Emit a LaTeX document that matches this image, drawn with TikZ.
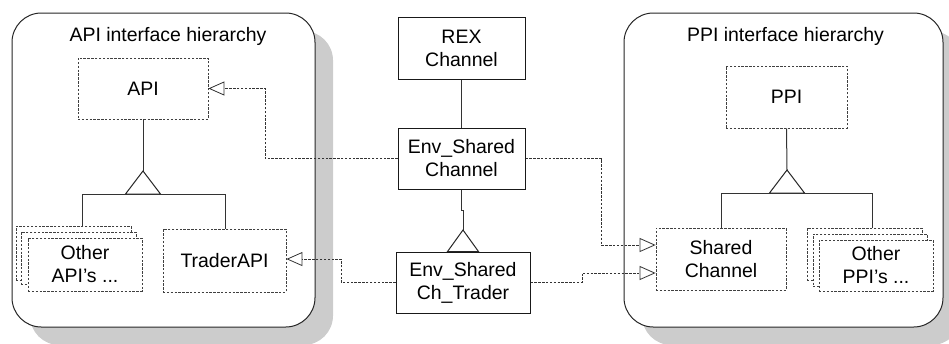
\documentclass[tikz,border=0pt]{standalone}
\usepackage{fontspec}
\setmainfont{Liberation Sans}
\usetikzlibrary{arrows.meta,shadows}
\newdimen\pxu \pxu=0.75pt
\begin{document}
\begin{tikzpicture}[x=0.75pt,y=-0.75pt,
  font=\fontsize{14.6}{17.3}\selectfont,
  container/.style={draw=black!85, line width=0.75pt, fill=white,
    rounded corners=22pt, inner sep=0pt,
    drop shadow={shadow xshift=13.5pt, shadow yshift=-13.5pt, fill=black!20, opacity=1}},
  solidbox/.style={draw=black!90, line width=0.75pt, fill=white, align=center, inner sep=0pt},
  dashbox/.style={draw=black!75, line width=0.6pt, dash pattern=on 1.8pt off 1.1pt,
    fill=white, align=center, inner sep=0pt},
  title/.style={inner sep=0pt},
  link/.style={draw=black!80, line width=0.75pt},
  gentri/.style={draw=black!85, line width=0.75pt, line join=miter},
  dep/.style={draw=black!80, line width=0.6pt, dash pattern=on 1.8pt off 1.1pt,
    -{Triangle[open, length=12pt, width=10.5pt, line width=0.6pt]}}
]
\useasboundingbox (0,0) rectangle (949,343);
\clip (0,0) rectangle (949,343);

% containers
\node[container, minimum width=303\pxu, minimum height=314\pxu] (apicont) at (163.5,170) {};
\node[container, minimum width=319\pxu, minimum height=314\pxu] (ppicont) at (783.5,170) {};
\node[title] (apititle) at (168,36) {API interface hierarchy};
\node[title] (ppititle) at (785.5,36) {PPI interface hierarchy};

% API side
\node[dashbox, minimum width=130\pxu, minimum height=61\pxu] (api) at (143,88.5) {API};
\node[dashbox, minimum width=115\pxu, minimum height=54\pxu] (oapi1) at (73.5,253) {};
\node[dashbox, minimum width=115\pxu, minimum height=52\pxu] (oapi2) at (78.5,258) {};
\node[dashbox, minimum width=114\pxu, minimum height=53\pxu] (oapi3) at (85,264.5) {Other\\API's ...};
\node[dashbox, minimum width=123\pxu, minimum height=63\pxu] (trader) at (224.5,260.5) {TraderAPI};

% centre column
\node[solidbox, minimum width=127\pxu, minimum height=62\pxu] (rex) at (461.5,48) {REX\\Channel};
\node[solidbox, minimum width=127\pxu, minimum height=61\pxu] (envch) at (461.5,158.5) {Env\_Shared\\Channel};
\node[solidbox, minimum width=134\pxu, minimum height=61\pxu] (envtr) at (463,282.5) {Env\_Shared\\Ch\_Trader};

% PPI side
\node[dashbox, minimum width=121\pxu, minimum height=62\pxu] (ppi) at (786.5,97) {PPI};
\node[dashbox, minimum width=130\pxu, minimum height=62\pxu] (shch) at (721,259) {Shared\\Channel};
\node[dashbox, minimum width=115\pxu, minimum height=52\pxu] (oppi1) at (864.5,254) {};
\node[dashbox, minimum width=114\pxu, minimum height=52\pxu] (oppi2) at (870,260) {};
\node[dashbox, minimum width=114\pxu, minimum height=51\pxu] (oppi3) at (876,265.5) {Other\\PPI's ...};

% generalisation: API hierarchy
\coordinate (ta) at (143,171);
\coordinate (la) at (82,194);
\coordinate (ra) at (225,194);
\draw[link] (api.south) -- (ta);
\draw[gentri] (ta) -- (125.5,194) -- (160.5,194) -- cycle;
\draw[link] (la |- oapi1.north) -- (la) -- (ra) -- (ra |- trader.north);

% generalisation: PPI hierarchy
\coordinate (tp) at (787,170);
\coordinate (lp) at (721,193);
\coordinate (rp) at (872,193);
\draw[link] (ppi.south) -- (tp);
\draw[gentri] (tp) -- (769.5,193) -- (804.5,193) -- cycle;
\draw[link] (lp |- shch.north) -- (lp) -- (rp) -- (rp |- oppi1.north);

% centre column links
\draw[link] (rex.south) -- (envch.north);
\coordinate (te) at (463,230);
\draw[link] (envch.south) -- (461.5,210) -- (463,210) -- (te);
\draw[gentri] (te) -- ([xshift=-11.6pt]te |- envtr.north) -- ([xshift=11.6pt]te |- envtr.north) -- cycle;

% dependency arrows
\coordinate (k1) at (265,0);
\coordinate (k2) at (341,0);
\coordinate (k3) at (601,0);
\coordinate (k4) at (582,0);
\draw[dep] (envch.west) -- (envch.west -| k1) |- (api.east);
\draw[dep] (envtr.west) -- (envtr.west -| k2) |- ([yshift=1.1pt]trader.east);
\draw[dep] (envch.east) -- (envch.east -| k3) |- ([yshift=10.5pt]shch.west);
\draw[dep] (envtr.east) -- (envtr.east -| k4) |- ([yshift=-10.5pt]shch.west);
\end{tikzpicture}
\end{document}
